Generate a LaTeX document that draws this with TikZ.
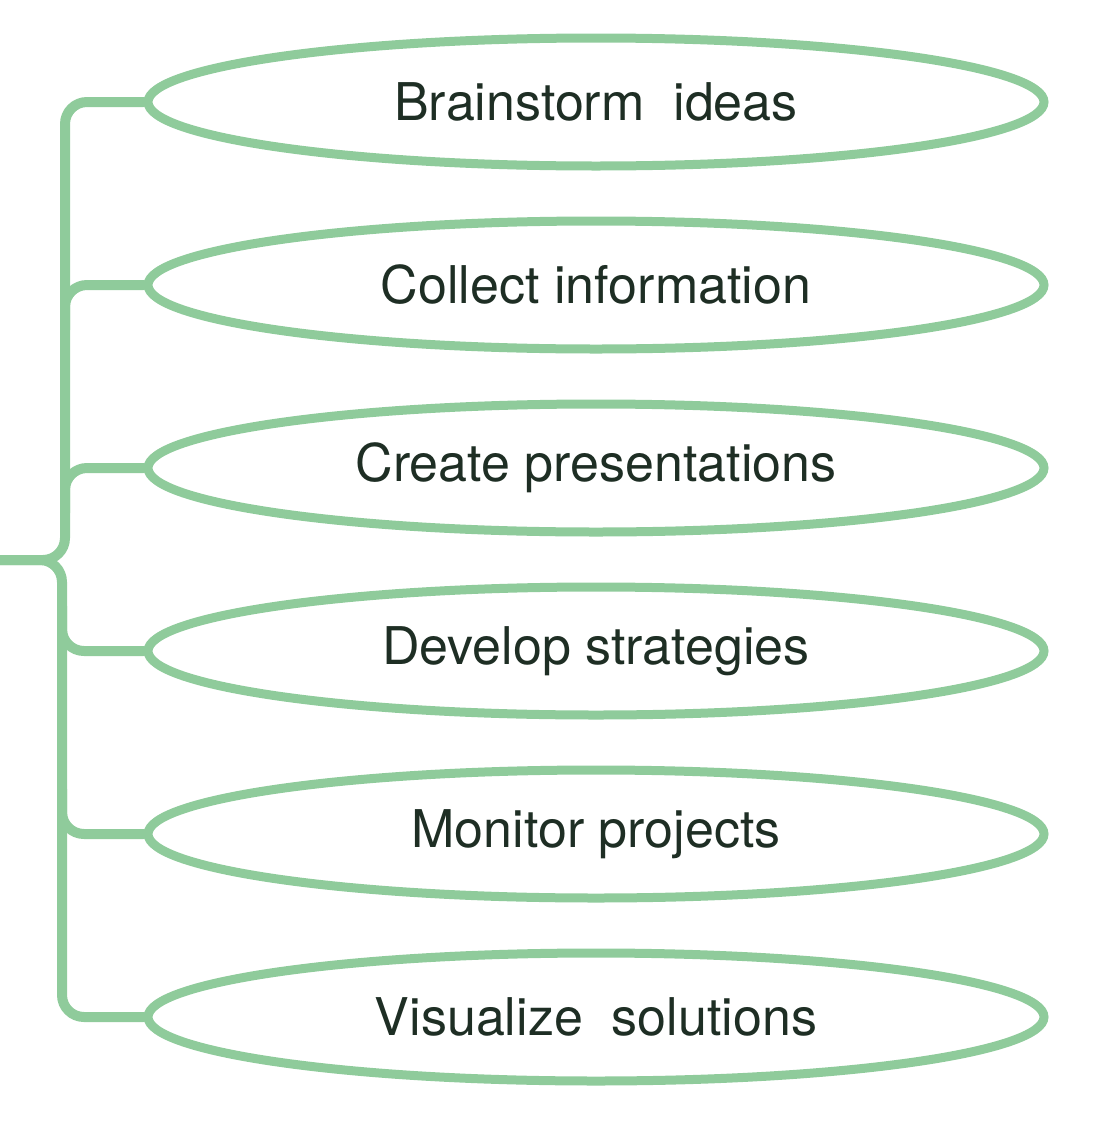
\documentclass[tikz,border=0pt]{standalone}
\usepackage{fontspec}
\setmainfont{TeX Gyre Heros}
\usetikzlibrary{shapes.geometric}
\definecolor{gr}{HTML}{8FCB9B}
\definecolor{tx}{HTML}{1E2E24}
\begin{document}
\begin{tikzpicture}[x=1pt,y=-1pt,
  item/.style={ellipse,draw=gr,line width=9pt,minimum width=896pt,minimum height=128pt,inner sep=0pt,text=tx,font=\fontsize{52}{58}\selectfont},
  br/.style={draw=gr,line width=10pt,line cap=round,line join=round,rounded corners=22pt}]
\useasboundingbox (0,0) rectangle (1114,1130);
\foreach \n/\y/\t in {1/102/Brainstorm~~ideas,2/285/Collect information,3/468/Create presentations,4/651/Develop strategies,5/834/Monitor projects,6/1017/Visualize~~solutions}
  \node[item] (e\n) at (596,\y) {\t};
\coordinate (s) at (-10,560);
\draw[br] (s) -- (65,560) -- (65,102) -- (e1.west);
\draw[br] (s) -- (62,560) -- (62,1017) -- (e6.west);
\draw[br] (65,330) -- (65,285) -- (e2.west);
\draw[br] (65,513) -- (65,468) -- (e3.west);
\draw[br] (62,606) -- (62,651) -- (e4.west);
\draw[br] (62,789) -- (62,834) -- (e5.west);
\end{tikzpicture}
\end{document}
